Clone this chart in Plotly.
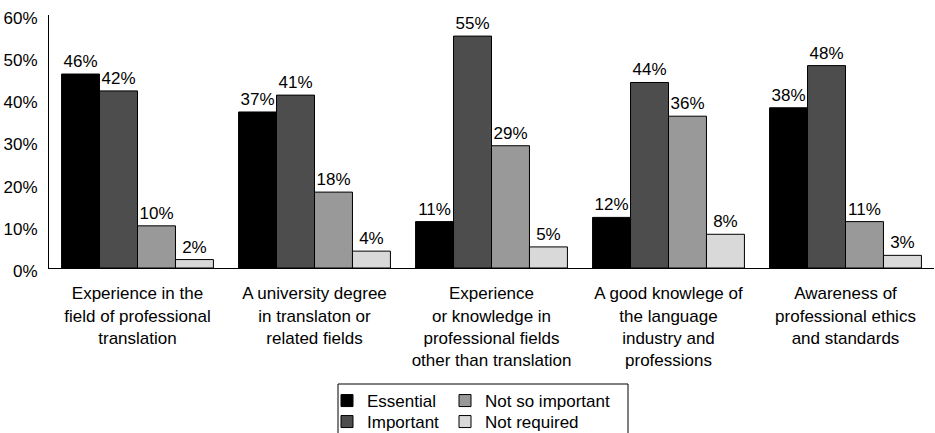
import plotly.graph_objects as go

categories = [
    "Experience in the<br>field of professional<br>translation",
    "A university degree<br>in translaton or<br>related fields",
    "Experience<br>or knowledge in<br>professional fields<br>other than translation",
    "A good knowlege of<br>the language<br>industry and<br>professions",
    "Awareness of<br>professional ethics<br>and standards",
]
essential = [46, 37, 11, 12, 38]
important = [42, 41, 55, 44, 48]
not_so_important = [10, 18, 29, 36, 11]
not_required = [2, 4, 5, 8, 3]

W, H = 935, 433
L, R, T, B = 49, 1, 15, 165
pw = W - L - R
ph = H - T - B

def px_x(p):
    return (p - L) / pw

def px_y(p):
    return (H - B - p) / ph

# legend item anchor: (left px of legend, row centre px)
series = [
    ("Essential", essential, "#000000", "legend", 327, 401),
    ("Important", important, "#4d4d4d", "legend2", 327, 422),
    ("Not so important", not_so_important, "#999999", "legend3", 445, 401),
    ("Not required", not_required, "#d9d9d9", "legend4", 445, 422),
]

FONT = "Liberation Sans, Arial, Helvetica, sans-serif"

fig = go.Figure()
legends = {}
for name, vals, color, leg, lx, ly in series:
    fig.add_trace(go.Bar(
        name=name, x=categories, y=vals,
        marker=dict(color=color, line=dict(color="#000000", width=1)),
        text=[f"{v}%" for v in vals], textposition="outside",
        textfont=dict(family=FONT, size=17, color="#000000"),
        cliponaxis=False, legend=leg, showlegend=True,
    ))
    legends[leg] = dict(orientation="v", x=px_x(lx), xanchor="left",
                        y=px_y(ly), yanchor="middle",
                        font=dict(family=FONT, size=17, color="#000000"),
                        bgcolor="rgba(0,0,0,0)", borderwidth=0)

fig.update_layout(
    width=W, height=H, showlegend=True,
    margin=dict(l=L, r=R, t=T, b=B, pad=0, autoexpand=False),
    paper_bgcolor="white", plot_bgcolor="white",
    barmode="group", bargap=0.142, bargroupgap=0,
    font=dict(family=FONT, size=17, color="#000000"),
    xaxis=dict(showline=True, linecolor="#000000", linewidth=1, ticks="",
               tickfont=dict(size=17), showgrid=False, zeroline=False,
               automargin=False, ticklabelstandoff=10),
    yaxis=dict(range=[0, 60], tickvals=[0, 10, 20, 30, 40, 50, 60],
               ticktext=["0%", "10%", "20%", "30%", "40%", "50%", "60%"],
               showline=True, linecolor="#000000", linewidth=1, ticks="",
               showgrid=False, zeroline=False, tickfont=dict(size=17),
               automargin=False, ticklabelstandoff=7, ticklabelshift=3),
    shapes=[dict(type="rect", xref="paper", yref="paper",
                 x0=px_x(338), x1=px_x(628), y0=px_y(384), y1=px_y(460),
                 line=dict(color="#000000", width=1), fillcolor="rgba(0,0,0,0)")],
    **legends,
)

fig.write_html("out.html", config={"displayModeBar": False},
               post_script="document.body.style.margin='0';")
